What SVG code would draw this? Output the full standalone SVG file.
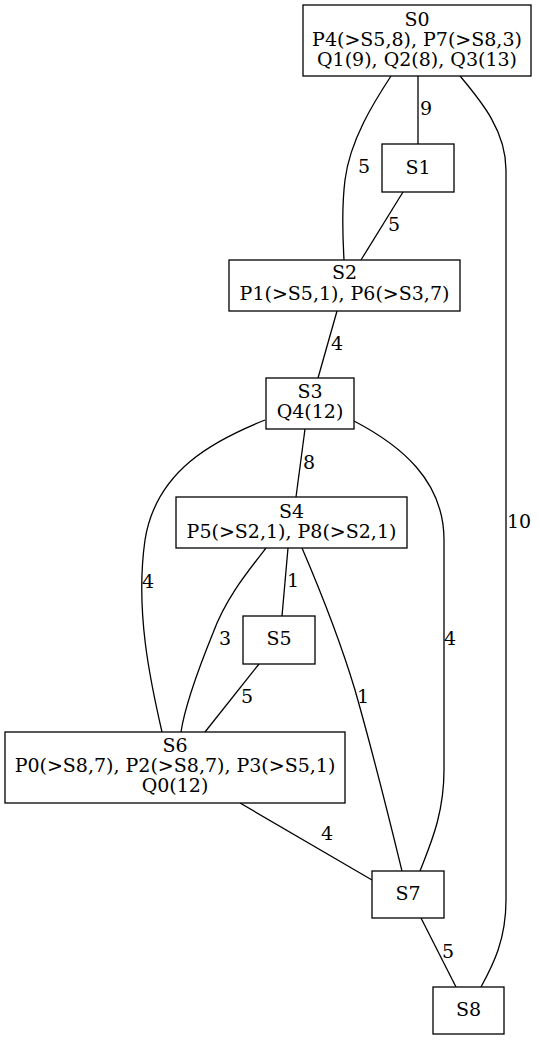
<svg xmlns="http://www.w3.org/2000/svg" width="539" height="1040" viewBox="0 0 539 1040">
<style>
text{font-family:"DejaVu Serif","Liberation Serif",serif;font-size:19px;fill:#000}
.n rect{fill:#fff;stroke:#000;stroke-width:1.3}
.n text{text-anchor:middle}
.e path{fill:none;stroke:#000;stroke-width:1.3}
</style>
<rect width="539" height="1040" fill="#fff"/>
<g id="edges" class="e">
<path d="M418,76 L418,144"/>
<path d="M391,76 C374,102 350,140 345,180 C341,212 343,240 344,260"/>
<path d="M403,192 L361,260"/>
<path d="M337,311 L318,378"/>
<path d="M305,429 L296,497"/>
<path d="M265,420 C215,440 156,470 145,540 C135,610 150,680 162,732"/>
<path d="M354,421 C400,445 444,480 444,540 L444,770 C444,815 430,845 420,871"/>
<path d="M288,548 L282,616"/>
<path d="M266,548 C245,575 225,600 213,633 C198,670 185,705 181,732"/>
<path d="M259,664 L205,732"/>
<path d="M302,548 C320,590 340,640 355,690 C375,760 392,830 402,871"/>
<path d="M240,803 L372,880"/>
<path d="M421,918 L456,987"/>
<path d="M460,76 C480,100 506,130 506,170 L506,900 C506,940 493,965 481,987"/>
<text x="420" y="115">9</text>
<text x="358" y="173">5</text>
<text x="388" y="231">5</text>
<text x="331" y="350">4</text>
<text x="303" y="469">8</text>
<text x="142" y="588">4</text>
<text x="444" y="645">4</text>
<text x="287" y="587">1</text>
<text x="219" y="645">3</text>
<text x="241" y="703">5</text>
<text x="357" y="703">1</text>
<text x="321" y="840">4</text>
<text x="442" y="958">5</text>
<text x="507" y="528">10</text>
</g>
<g id="S0" class="n"><rect x="303" y="5" width="228" height="71"/><text x="417" y="26">S0</text><text x="417" y="46">P4(&gt;S5,8), P7(&gt;S8,3)</text><text x="417" y="66">Q1(9), Q2(8), Q3(13)</text></g>
<g id="S1" class="n"><rect x="382" y="144" width="72" height="48"/><text x="418" y="174">S1</text></g>
<g id="S2" class="n"><rect x="229" y="260" width="231" height="51"/><text x="344.5" y="279">S2</text><text x="344.5" y="300">P1(&gt;S5,1), P6(&gt;S3,7)</text></g>
<g id="S3" class="n"><rect x="266" y="378" width="88" height="51"/><text x="310" y="398">S3</text><text x="310" y="418">Q4(12)</text></g>
<g id="S4" class="n"><rect x="176" y="497" width="231" height="51"/><text x="291.5" y="518">S4</text><text x="291.5" y="538">P5(&gt;S2,1), P8(&gt;S2,1)</text></g>
<g id="S5" class="n"><rect x="243" y="616" width="72" height="48"/><text x="279" y="645">S5</text></g>
<g id="S6" class="n"><rect x="5" y="732" width="340" height="71"/><text x="175" y="752">S6</text><text x="175" y="772">P0(&gt;S8,7), P2(&gt;S8,7), P3(&gt;S5,1)</text><text x="175" y="792">Q0(12)</text></g>
<g id="S7" class="n"><rect x="372" y="871" width="72" height="47"/><text x="408" y="900">S7</text></g>
<g id="S8" class="n"><rect x="433" y="987" width="71" height="47"/><text x="468.5" y="1016">S8</text></g>
</svg>
